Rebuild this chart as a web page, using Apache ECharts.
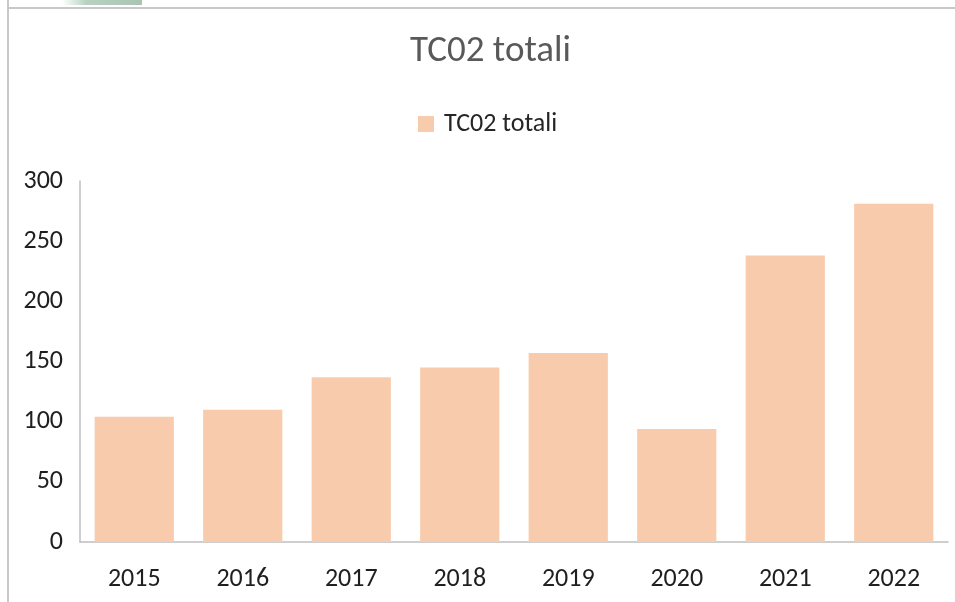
<!DOCTYPE html>
<html>
<head>
<meta charset="utf-8">
<script src="https://cdn.jsdelivr.net/npm/echarts@6/dist/echarts.min.js"></script>
<style>
  html, body { margin: 0; padding: 0; background: #fff; }
  #chart { width: 955px; height: 602px; }
</style>
</head>
<body>
<div id="chart"></div>
<script>
var anni = ['2015', '2016', '2017', '2018', '2019', '2020', '2021', '2022'];
var tc02 = [104, 110, 137, 145, 157, 94, 238, 281];
var yTicks = [0, 50, 100, 150, 200, 250, 300];

var font = 'Carlito, "Liberation Sans", Arial, sans-serif';
var chart = echarts.init(document.getElementById('chart'));

chart.setOption({
    backgroundColor: '#ffffff',
    animation: false,
    title: {
        text: 'TC02 totali',
        left: 405,
        top: 28,
        textStyle: { fontFamily: font, fontSize: 37, fontWeight: 'normal', color: '#595959' }
    },
    legend: {
        data: ['TC02 totali'],
        top: 106,
        left: 413,
        itemWidth: 16,
        itemHeight: 16,
        icon: 'rect',
        textStyle: { fontFamily: font, fontSize: 26, color: '#262626', padding: [0, 0, 0, 5] }
    },
    graphic: [
        // bordo del riquadro e ritaglio verde in alto
        { type: 'line', shape: { x1: 8, y1: 0, x2: 8, y2: 602 }, style: { stroke: '#c8c8c8', lineWidth: 2 } },
        { type: 'line', shape: { x1: 8, y1: 8, x2: 955, y2: 8 }, style: { stroke: '#c8c8c8', lineWidth: 2 } },
        { type: 'rect', shape: { x: 62, y: 0, width: 80, height: 5 },
          style: { fill: new echarts.graphic.LinearGradient(0, 0, 1, 0, [
              { offset: 0, color: '#ffffff' }, { offset: 0.3, color: '#b9d3c2' }, { offset: 1, color: '#a9c4b2' }]) } }
    ],
    grid: { left: 80, right: 7, top: 181, bottom: 60, containLabel: false },
    xAxis: {
        type: 'category',
        data: anni,
        axisLine: { lineStyle: { color: '#bfbfbf', width: 1.5 } },
        axisTick: { show: false },
        axisLabel: { fontFamily: font, fontSize: 26, color: '#1f1f1f', margin: 24 }
    },
    yAxis: {
        type: 'value',
        min: yTicks[0],
        max: yTicks[yTicks.length - 1],
        interval: 50,
        axisLine: { show: true, lineStyle: { color: '#bfbfbf', width: 1.5 } },
        axisTick: { show: false },
        splitLine: { show: false },
        axisLabel: { fontFamily: font, fontSize: 26, color: '#1f1f1f', margin: 17 }
    },
    series: [{
        name: 'TC02 totali',
        type: 'bar',
        data: tc02,
        barWidth: '73%',
        itemStyle: { color: '#f8cbad' }
    }]
});
</script>
</body>
</html>
